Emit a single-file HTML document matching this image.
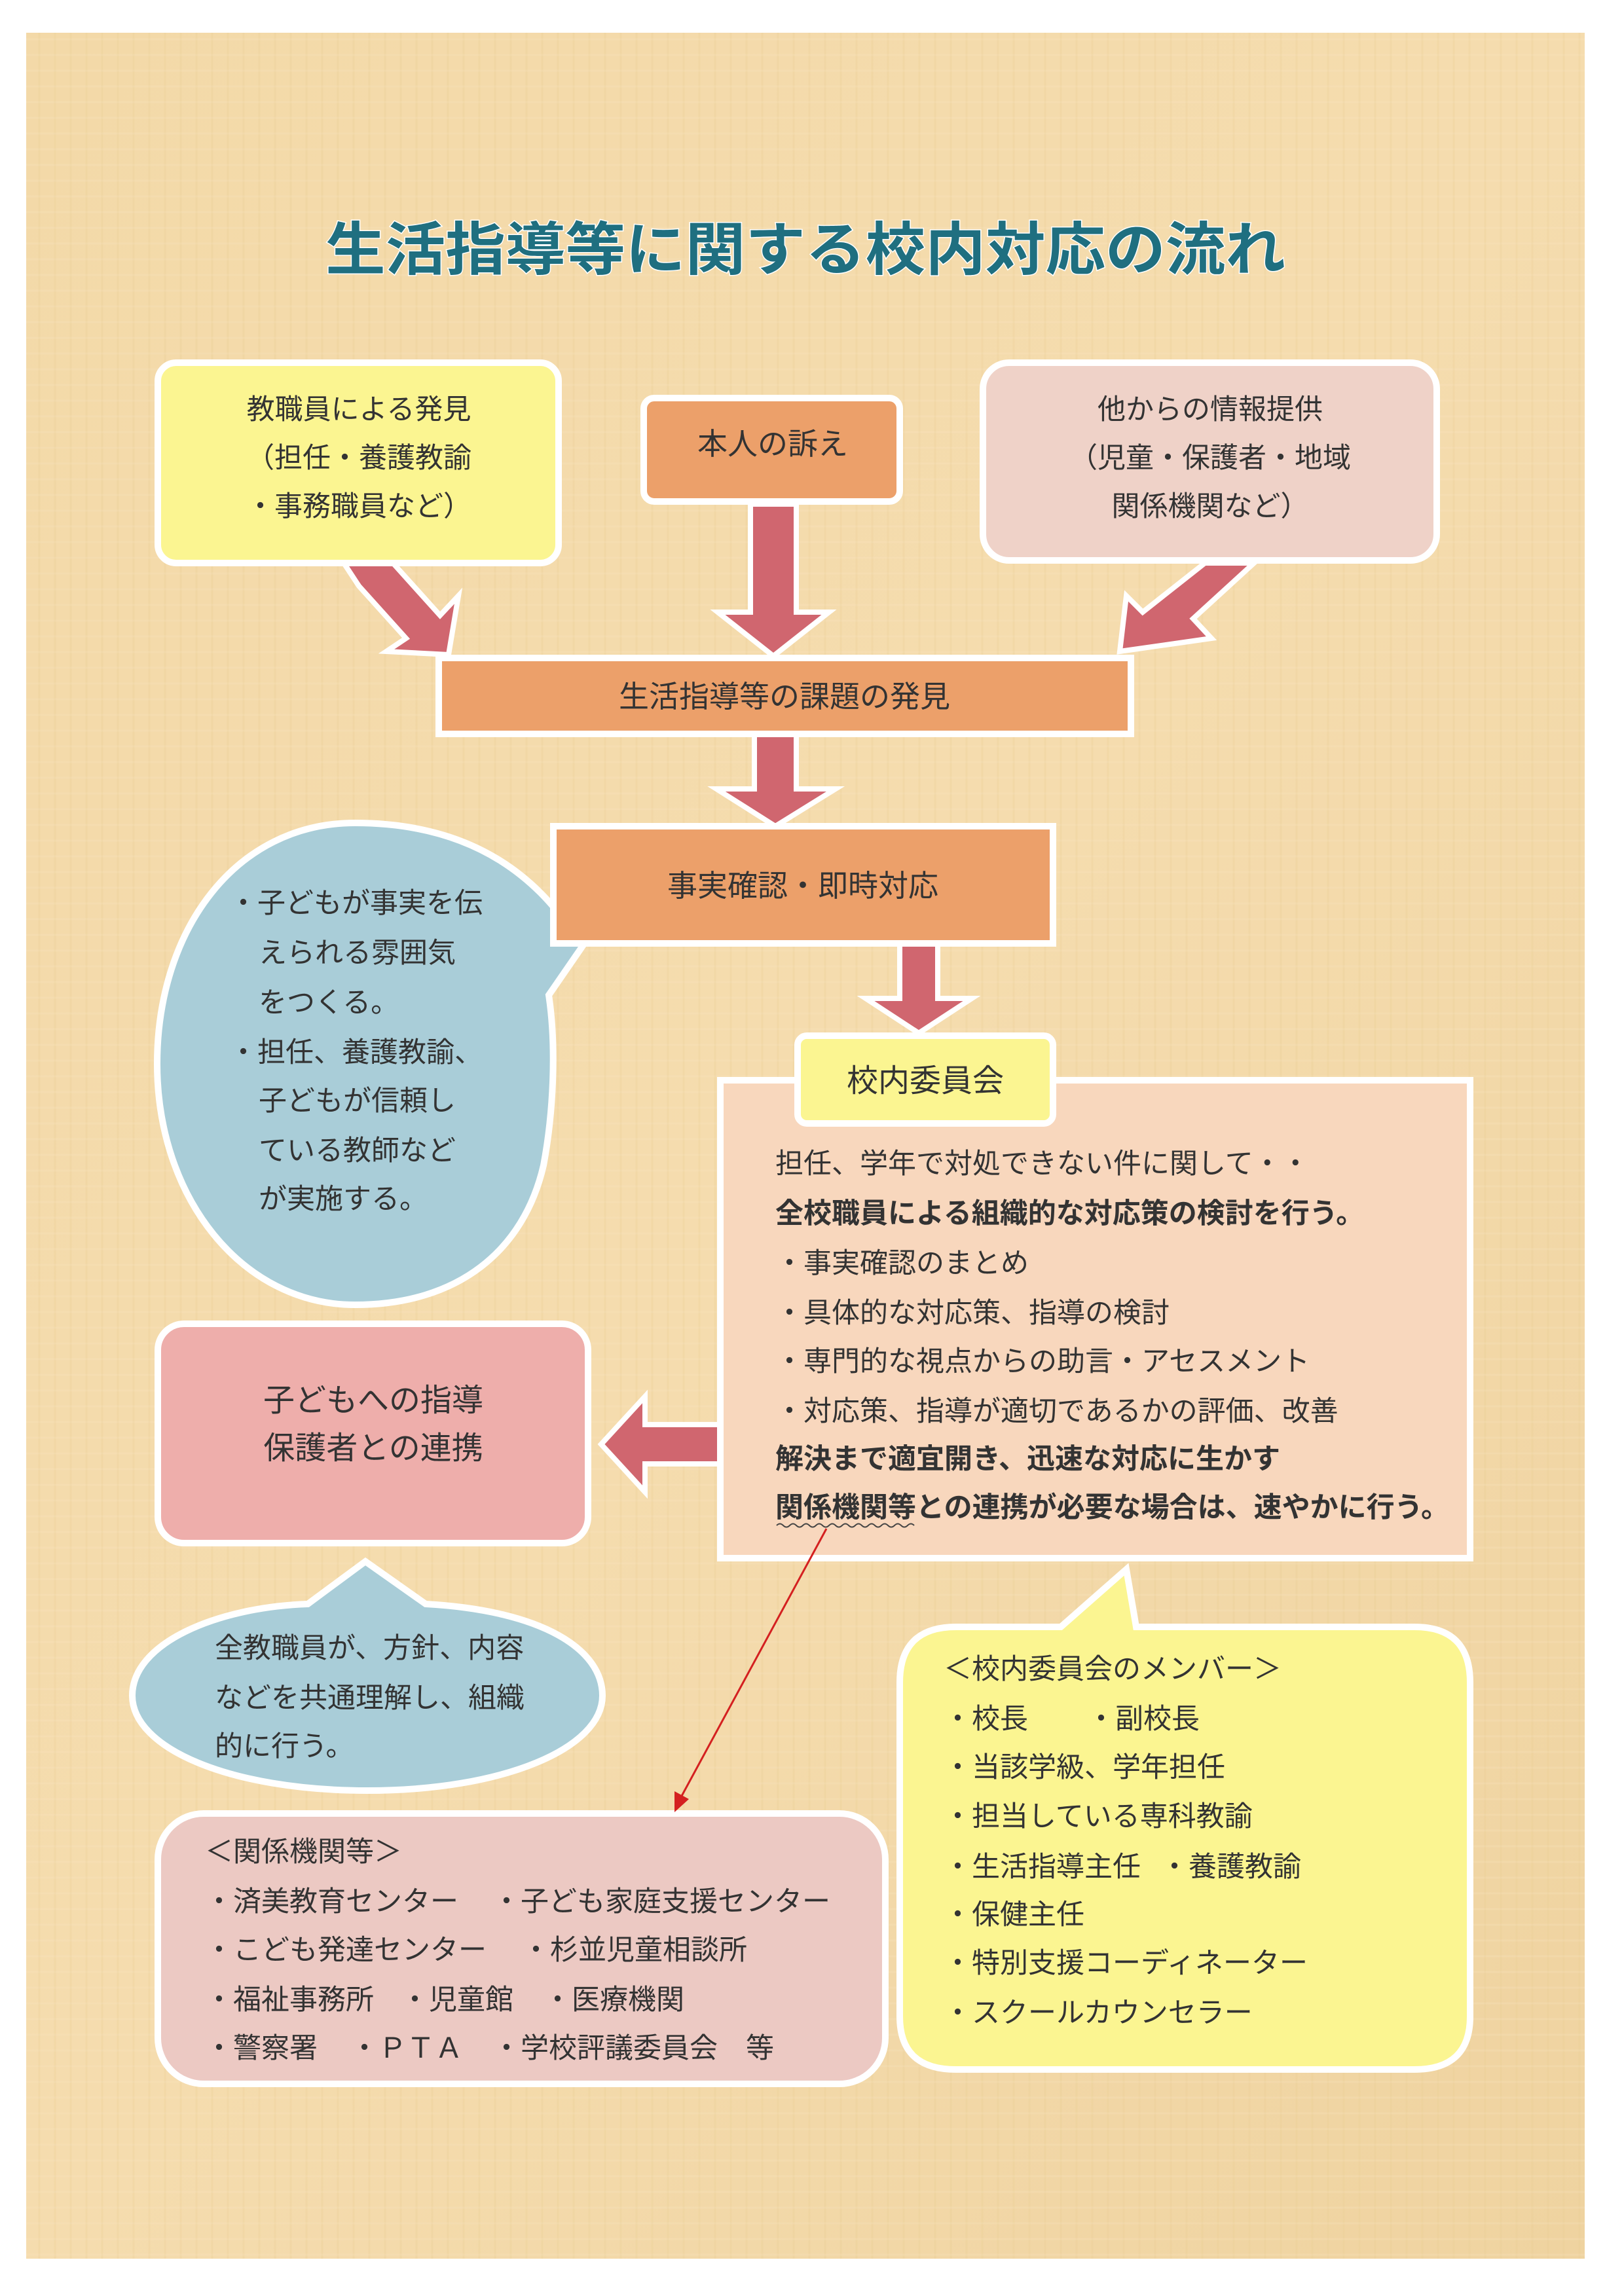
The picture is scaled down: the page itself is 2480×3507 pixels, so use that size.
<!DOCTYPE html>
<html><head><meta charset="utf-8"><style>
html,body{margin:0;padding:0;background:#fff;}
svg{display:block;}
text{font-family:"Liberation Sans","Noto Sans CJK JP",sans-serif;fill:#333;}
</style></head><body>
<svg width="2480" height="3507" viewBox="0 0 2480 3507" xmlns="http://www.w3.org/2000/svg">
<defs>
<linearGradient id="bg" x1="0" y1="0" x2="1" y2="1">
<stop offset="0" stop-color="#f3d9a8"/><stop offset="0.5" stop-color="#f5dcae"/><stop offset="1" stop-color="#efd3a0"/>
</linearGradient>
<pattern id="tex" width="24" height="24" patternUnits="userSpaceOnUse">
<line x1="12" y1="0" x2="12" y2="24" stroke="#e8c98f" stroke-width="3" opacity="0.25"/>
<line x1="0" y1="12" x2="24" y2="12" stroke="#f8e4bd" stroke-width="3" opacity="0.25"/>
</pattern>
</defs>
<rect x="0" y="0" width="2480" height="3507" fill="#fff"/>
<rect x="40" y="50" width="2380" height="3400" fill="url(#bg)"/>
<rect x="40" y="50" width="2380" height="3400" fill="url(#tex)"/>

<text x="497" y="412" font-size="88" font-weight="bold" textLength="1466" lengthAdjust="spacingAndGlyphs" style="fill:#1f6f80" stroke="#fff" stroke-width="3" paint-order="stroke">生活指導等に関する校内対応の流れ</text>

<g fill="#d0666f" stroke="#fff" stroke-width="8" stroke-linejoin="miter">
<polygon points="525,860 600,860 672,940 700,910 685,1000 590,995 620,975 548,895"/>
<polygon points="1146,770 1216,770 1216,935 1266,935 1181,1002 1096,935 1146,935"/>
<polygon points="1840,860 1915,860 1822,945 1850,975 1710,995 1720,910 1745,935"/>
<polygon points="1152,1121 1216,1121 1216,1205 1276,1205 1184,1262 1094,1205 1152,1205"/>
<polygon points="1374,1441 1432,1441 1432,1525 1484,1525 1403,1578 1322,1525 1374,1525"/>
<polygon points="1102,2176 985,2176 985,2133 918,2206 985,2279 985,2236 1102,2236"/>
</g>

<rect x="241" y="554" width="612" height="306" rx="28" fill="#fbf591" stroke="#fff" stroke-width="10"/>
<g font-size="43" text-anchor="middle">
<text x="548" y="640">教職員による発見</text>
<text x="548" y="714">（担任・養護教諭</text>
<text x="548" y="788">・事務職員など）</text>
</g>

<rect x="983" y="608" width="391" height="158" rx="16" fill="#eca06a" stroke="#fff" stroke-width="10"/>
<text x="1180" y="694" font-size="46" text-anchor="middle">本人の訴え</text>

<rect x="1501" y="554" width="693" height="302" rx="40" fill="#efd2c8" stroke="#fff" stroke-width="10"/>
<g font-size="43" text-anchor="middle">
<text x="1848" y="640">他からの情報提供</text>
<text x="1848" y="714">（児童・保護者・地域</text>
<text x="1848" y="788">関係機関など）</text>
</g>

<rect x="670" y="1005" width="1057" height="116" fill="#eca06a" stroke="#fff" stroke-width="10"/>
<text x="1198" y="1080" font-size="46" text-anchor="middle">生活指導等の課題の発見</text>

<path d="M 542 1257 C 760 1257 840 1380 870 1415 L 900 1430 L 838 1520 C 850 1600 845 1700 830 1780 C 800 1910 700 1993 542 1993 C 370 1993 240 1830 240 1625 C 240 1420 360 1257 542 1257 Z" fill="#a9cdd8" stroke="#fff" stroke-width="10"/>
<g font-size="43">
<text x="350" y="1394">・子どもが事実を伝</text>
<text x="395" y="1470">えられる雰囲気</text>
<text x="395" y="1546">をつくる。</text>
<text x="350" y="1622">・担任、養護教諭、</text>
<text x="395" y="1696">子どもが信頼し</text>
<text x="395" y="1772">ている教師など</text>
<text x="395" y="1846">が実施する。</text>
</g>

<rect x="845" y="1262" width="763" height="179" fill="#eca06a" stroke="#fff" stroke-width="10"/>
<text x="1226" y="1369" font-size="46" text-anchor="middle">事実確認・即時対応</text>

<rect x="1100" y="1650" width="1145" height="730" fill="#f8d7bd" stroke="#fff" stroke-width="10"/>
<rect x="1218" y="1582" width="390" height="134" rx="14" fill="#fbf591" stroke="#fff" stroke-width="10"/>
<text x="1413" y="1667" font-size="48" text-anchor="middle">校内委員会</text>

<g font-size="43">
<text x="1184" y="1792">担任、学年で対処できない件に関して・・</text>
<text x="1184" y="1868" font-weight="bold">全校職員による組織的な対応策の検討を行う。</text>
<text x="1184" y="1944">・事実確認のまとめ</text>
<text x="1184" y="2020">・具体的な対応策、指導の検討</text>
<text x="1184" y="2094">・専門的な視点からの助言・アセスメント</text>
<text x="1184" y="2170">・対応策、指導が適切であるかの評価、改善</text>
<text x="1184" y="2243" font-weight="bold">解決まで適宜開き、迅速な対応に生かす</text>
<text x="1184" y="2317" font-weight="bold">関係機関等との連携が必要な場合は、速やかに行う。</text>
</g>
<path d="M1186 2330 q5 -5 10 0 t10 0 t10 0 t10 0 t10 0 t10 0 t10 0 t10 0 t10 0 t10 0 t10 0 t10 0 t10 0 t10 0 t10 0 t10 0 t10 0 t10 0 t10 0 t10 0 t10 0" fill="none" stroke="#444" stroke-width="2"/>

<rect x="241" y="2022" width="657" height="335" rx="40" fill="#eeaeab" stroke="#fff" stroke-width="10"/>
<g font-size="48" text-anchor="middle">
<text x="570" y="2155">子どもへの指導</text>
<text x="570" y="2228">保護者との連携</text>
</g>

<path d="M 558 2385 L 650 2450 C 830 2460 920 2520 920 2590 C 920 2670 770 2735 561 2735 C 350 2735 202 2670 202 2590 C 202 2510 330 2455 470 2450 Z" fill="#a9cdd8" stroke="#fff" stroke-width="10"/>
<g font-size="43">
<text x="328" y="2532">全教職員が、方針、内容</text>
<text x="328" y="2608">などを共通理解し、組織</text>
<text x="328" y="2682">的に行う。</text>
</g>

<path d="M 1720 2397 L 1735 2485 L 2160 2485 Q 2245 2485 2245 2570 L 2245 3080 Q 2245 3161 2160 3161 L 1460 3161 Q 1374 3161 1374 3080 L 1374 2570 Q 1374 2485 1460 2485 L 1620 2485 Z" fill="#fbf591" stroke="#fff" stroke-width="10"/>
<g font-size="43">
<text x="1441" y="2564">＜校内委員会のメンバー＞</text>
<text x="1441" y="2640">・校長</text><text x="1660" y="2640">・副校長</text>
<text x="1441" y="2714">・当該学級、学年担任</text>
<text x="1441" y="2789">・担当している専科教諭</text>
<text x="1441" y="2866">・生活指導主任</text><text x="1772" y="2866">・養護教諭</text>
<text x="1441" y="2939">・保健主任</text>
<text x="1441" y="3013">・特別支援コーディネーター</text>
<text x="1441" y="3089">・スクールカウンセラー</text>
</g>

<rect x="241" y="2770" width="1111" height="413" rx="70" fill="#ecc9c3" stroke="#fff" stroke-width="10"/>
<g font-size="43">
<text x="313" y="2843">＜関係機関等＞</text>
<text x="313" y="2919">・済美教育センター</text><text x="752" y="2919">・子ども家庭支援センター</text>
<text x="313" y="2993">・こども発達センター</text><text x="797" y="2993">・杉並児童相談所</text>
<text x="313" y="3069">・福祉事務所</text><text x="612" y="3069">・児童館</text><text x="830" y="3069">・医療機関</text>
<text x="313" y="3143">・警察署</text><text x="535" y="3143">・ＰＴＡ</text><text x="752" y="3143">・学校評議委員会　等</text>
</g>

<line x1="1262" y1="2335" x2="1040" y2="2745" stroke="#d42020" stroke-width="3"/>
<polygon points="1030,2768 1030,2736 1052,2748" fill="#d42020"/>
</svg>
</body></html>
